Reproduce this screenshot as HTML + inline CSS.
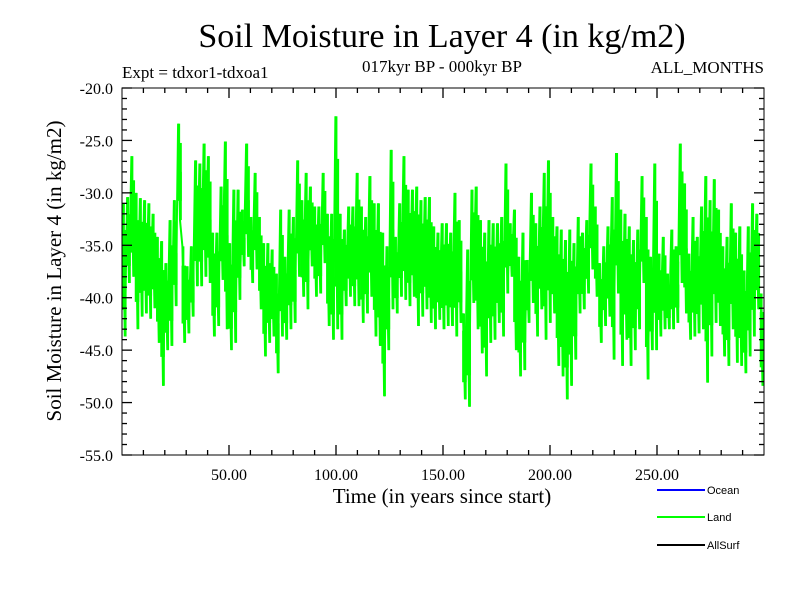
<!DOCTYPE html>
<html><head><meta charset="utf-8"><style>
body{margin:0;background:#fff}
svg{display:block}
.serif{font-family:"Liberation Serif",serif}
.sans{font-family:"Liberation Sans",sans-serif}
</style></head><body>
<svg id="chart" width="800" height="600" viewBox="0 0 800 600">
<text class="serif" x="442" y="47" font-size="34" text-anchor="middle">Soil Moisture in Layer 4 (in kg/m2)</text>
<text class="serif" x="442" y="72" font-size="17" text-anchor="middle">017kyr BP - 000kyr BP</text>
<text class="serif" x="122" y="78" font-size="17">Expt = tdxor1-tdxoa1</text>
<text class="serif" x="764" y="73" font-size="17" text-anchor="end">ALL_MONTHS</text>
<g id="plot"></g>
<text class="serif" x="442" y="503" font-size="21" text-anchor="middle">Time (in years since start)</text>
<text class="serif" transform="translate(61,271) rotate(-90)" font-size="21" text-anchor="middle">Soil Moisture in Layer 4 (in kg/m2)</text>
<g>
<line x1="657" y1="490" x2="705" y2="490" stroke="#0000ff" stroke-width="2"/>
<text class="sans" x="707" y="494" font-size="11">Ocean</text>
<line x1="657" y1="517" x2="705" y2="517" stroke="#00ff00" stroke-width="2"/>
<text class="sans" x="707" y="521" font-size="11">Land</text>
<line x1="657" y1="545" x2="705" y2="545" stroke="#000" stroke-width="2"/>
<text class="sans" x="707" y="549" font-size="11">AllSurf</text>
</g>
</svg>
<script>
const highs=[-31,-30.4,-26.5,-30,-30.5,-30.7,-31,-32,-34.2,-34.6,-36.7,-32.6,-30.7,-23.4,-35.1,-37,-35.1,-26.9,-27.2,-25.3,-26.5,-33.8,-33.8,-29.4,-25.1,-34.8,-29.7,-29.7,-31.6,-25.3,-32.3,-28.1,-32.3,-34.8,-34.8,-35.4,-37.7,-31.6,
-36.1,-31.6,-32.3,-26.9,-30.7,-28.1,-29.4,-31.3,-31.3,-28.1,-32,-32,-22.7,-32,-33.5,-31.3,-31.3,-28.1,-31.3,-32.3,-28.4,-31,-31,-33.8,-35.1,-25.9,-34.2,-31,-26.5,-29.7,-29.7,-29.4,-30.7,-30.4,-30.4,-33.2,-33.8,-32.9,
-32.9,-33.8,-30,-32.6,-41.5,-35.4,-29.7,-29.4,-32.6,-33.8,-32.6,-32.9,-32.9,-32.3,-27.2,-32.9,-31.6,-36.1,-33.8,-36.4,-30,-32.9,-31.3,-28.1,-26.9,-32.3,-33.2,-33.5,-34.5,-33.5,-34.8,-32.3,-33.8,-32.6,-27.2,-31.3,-36.7,-35.1,
-33.2,-30.4,-26.2,-31.6,-32,-33.2,-34.5,-33.5,-28.4,-32.3,-36.1,-27.2,-35.8,-34.2,-37.7,-33.5,-35.1,-25.3,-29.1,-35.8,-32.3,-34.2,-31.3,-28.4,-30.7,-28.7,-31.6,-35.1,-34.2,-31,-33.8,-33.2,-37.4,-33.2,-31,-32,-39.6];
const lows=[-43.7,-38.6,-38,-43,-41.8,-41.5,-42,-41,-44.3,-48.4,-45,-44.6,-40.8,-32.6,-44.3,-43.4,-41.8,-38.9,-38.9,-38,-38.6,-43.7,-42.7,-38.3,-43,-45,-44.3,-40.2,-37,-36.1,-38.6,-37.3,-41.1,-45.6,-44.3,-43.7,-47.2,-43.7,
-44,-43,-42.4,-38,-39.9,-41.1,-37,-39.9,-39.6,-36.7,-42.7,-44,-43,-44,-40.8,-39.9,-40.8,-40.8,-42.4,-41.5,-39.9,-43.7,-44.6,-49.4,-45,-41.1,-41.5,-39.9,-40.2,-40.8,-39.9,-42.7,-41.8,-41.1,-42.4,-43,-42.1,-43,
-42.7,-42.7,-43.7,-42.4,-49.7,-50.4,-40.5,-43,-45.3,-47.5,-44.3,-44,-42.4,-43.7,-39.6,-38,-45,-47.5,-46.9,-42.4,-40.5,-43.7,-41.1,-44,-42.4,-41.5,-46.5,-47.5,-49.7,-48.4,-45.9,-41.5,-41.1,-39.6,-37.3,-39.9,-44.3,-42.7,
-41.8,-45.9,-39.6,-46.5,-44,-46.5,-45,-43,-38.6,-47.8,-45,-45,-43.7,-43,-43,-43,-42.4,-38.6,-41.5,-44,-43.7,-43.4,-43,-48.1,-45.6,-42.4,-42.7,-45.6,-46.5,-43,-46.2,-46.5,-47.2,-45.6,-43.7,-41.1,-48.4];
const yTicks=[-20,-25,-30,-35,-40,-45,-50,-55];
const yTickLabels=["-20.0","-25.0","-30.0","-35.0","-40.0","-45.0","-50.0","-55.0"];
const xTicks=[50,100,150,200,250];
const xTickLabels=["50.00","100.00","150.00","200.00","250.00"];
const X0=122,X1=764,Y0=88,Y1=455,XMIN=0,XMAX=300,YMIN=-55,YMAX=-20;
const xs=v=>X0+(v-XMIN)/(XMAX-XMIN)*(X1-X0);
const ys=v=>Y1-(v-YMIN)/(YMAX-YMIN)*(Y1-Y0);
const NS="http://www.w3.org/2000/svg";
const plot=document.getElementById('plot');
function mk(tag,attrs,parent){const e=document.createElementNS(NS,tag);for(const k in attrs)e.setAttribute(k,attrs[k]);(parent||plot).appendChild(e);return e;}
const n=highs.length;
// envelope bars per segment
const g=mk('g',{fill:'#00ff00'});


for(let i=0;i<n;i++){
  const xa=xs(XMAX*i/n),xb=xs(XMAX*(i+1)/n);
  const hi=Math.max(highs[i],lows[i]),lo=Math.min(highs[i],lows[i]);
  // core band (middle part, dense) plus thin spike bars to extremes
  const mid=(hi+lo)/2,span=hi-lo;
  const r=mk('rect',{x:xa,y:ys(mid+span*0.3),width:xb-xa+0.3,height:ys(mid-span*0.3)-ys(mid+span*0.3)},g);
  
  
  const s=mk('rect',{x:xa+(xb-xa)*0.2,y:ys(hi),width:2,height:ys(mid)-ys(hi)},g);
  
  
  const t=mk('rect',{x:xa+(xb-xa)*0.6,y:ys(mid),width:2,height:ys(lo)-ys(mid)},g);
  
  
}
let pts=[];
for(let i=0;i<n;i++){pts.push(xs(XMAX*(i+0.2)/n).toFixed(1)+','+ys(highs[i]).toFixed(1));pts.push(xs(XMAX*(i+0.65)/n).toFixed(1)+','+ys(lows[i]).toFixed(1));}
const line=mk('polyline',{points:pts.join(' '),fill:'none',stroke:'#00ff00','stroke-width':2});


const fr=mk('rect',{x:X0,y:Y0,width:X1-X0,height:Y1-Y0,fill:'none',stroke:'#000','stroke-width':1});


for(let v=YMIN;v<=YMAX;v++){const major=(v%5===0);const L=major?10:5;const y=ys(v);
mk('line',{x1:X0,y1:y,x2:X0+L,y2:y,stroke:'#000','stroke-width':1.3});
mk('line',{x1:X1,y1:y,x2:X1-L,y2:y,stroke:'#000','stroke-width':1.3});}
yTicks.forEach((v,i)=>{const t=mk('text',{x:113,y:ys(v)+6,'font-size':16,'text-anchor':'end',class:'serif'});t.textContent=yTickLabels[i];

});
for(let v=10;v<XMAX;v+=10){const major=(v%50===0);const L=major?10:5;const x=xs(v);
mk('line',{x1:x,y1:Y1,x2:x,y2:Y1-L,stroke:'#000','stroke-width':1.3});
mk('line',{x1:x,y1:Y0,x2:x,y2:Y0+L,stroke:'#000','stroke-width':1.3});}
xTicks.forEach((v,i)=>{const t=mk('text',{x:xs(v),y:480,'font-size':16,'text-anchor':'middle',class:'serif'});t.textContent=xTickLabels[i];

});
</script>
</body></html>
